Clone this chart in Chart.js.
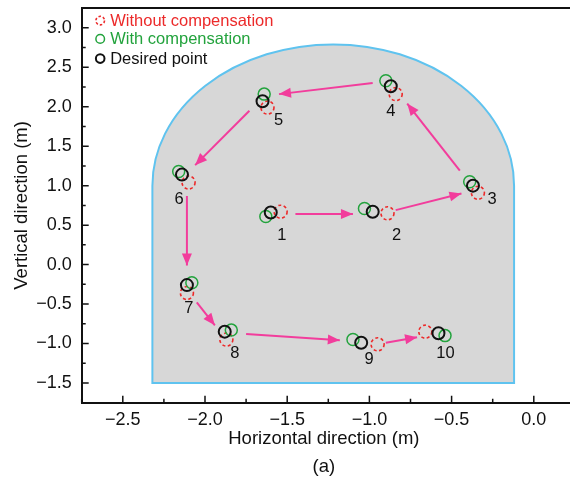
<!DOCTYPE html>
<html>
<head>
<meta charset="utf-8">
<script src="https://cdn.jsdelivr.net/npm/chart.js@4.4.1/dist/chart.umd.min.js"></script>
<style>
  html, body { margin: 0; padding: 0; overflow: hidden; background: #fff; }
  canvas { display: block; }
</style>
</head>
<body>
<canvas id="chart" width="583" height="485"></canvas>
<script>
// target points 1..10 (m)
const pointNames = ['1', '2', '3', '4', '5', '6', '7', '8', '9', '10'];
const desiredX = [-1.60, -0.98, -0.37, -0.87, -1.65, -2.14, -2.11, -1.88, -1.05, -0.58];
const desiredY = [0.66, 0.67, 1.00, 2.26, 2.07, 1.14, -0.26, -0.85, -0.99, -0.87];
const withX = [-1.63, -1.03, -0.39, -0.90, -1.64, -2.16, -2.08, -1.84, -1.10, -0.54];
const withY = [0.61, 0.71, 1.05, 2.33, 2.16, 1.18, -0.23, -0.83, -0.95, -0.90];
const withoutX = [-1.54, -0.89, -0.34, -0.84, -1.62, -2.10, -2.11, -1.87, -0.95, -0.66];
const withoutY = [0.67, 0.65, 0.91, 2.16, 1.99, 1.04, -0.36, -0.95, -1.01, -0.85];

// path arrows between consecutive points
const arrowFromX = [-1.45, -0.84, -0.45, -0.98, -1.73, -2.11, -2.05, -1.75, -0.90];
const arrowFromY = [0.64, 0.69, 1.19, 2.30, 1.95, 0.87, -0.48, -0.88, -0.99];
const arrowToX = [-1.10, -0.44, -0.77, -1.55, -2.06, -2.11, -1.94, -1.18, -0.71];
const arrowToY = [0.64, 0.90, 2.04, 2.16, 1.26, -0.01, -0.77, -0.96, -0.92];

// tunnel section outline
const tunnelLeft = -2.32, tunnelRight = -0.12;
const tunnelFloor = -1.5, tunnelSpring = 1.0, tunnelCrown = 2.79;

// label offsets for point numbers (px)
const labelDX = [11, 24, 19, 0, 16, -3, 2, 10, 8, 7];
const labelDY = [23, 24, 14, 25, 19, 25, 23, 22, 17, 20];

const xTitle = ['Horizontal direction (m)', '(a)'];

const FONT = "'Liberation Sans', Arial, sans-serif";
const RED = '#ec2a2a', GREEN = '#23a33d', BLACK = '#111111', PINK = '#f23d9c';

function toXY(xs, ys) {
    return xs.map((x, i) => ({ x: x, y: ys[i] }));
}

const isMajor = v => Math.abs(v * 2 - Math.round(v * 2)) < 1e-6;

const datasets = [
    { label: 'Desired point', data: toXY(desiredX, desiredY), showLine: false, order: 1,
      pointRadius: 6, borderColor: BLACK, borderWidth: 2, backgroundColor: 'rgba(0,0,0,0)' },
    { label: 'With compensation', data: toXY(withX, withY), showLine: false, order: 2,
      pointRadius: 6, borderColor: GREEN, borderWidth: 1.5, backgroundColor: 'rgba(0,0,0,0)' },
    { label: 'Without compensation', data: toXY(withoutX, withoutY), showLine: false, order: 3,
      pointRadius: 6.5, borderColor: RED, borderWidth: 1.6, backgroundColor: 'rgba(0,0,0,0)', dash: [3, 2.5] }
];
arrowFromX.forEach((x, i) => {
    datasets.push({
        label: 'arrow' + i,
        data: [{ x: x, y: arrowFromY[i] }, { x: arrowToX[i], y: arrowToY[i] }],
        showLine: true, pointRadius: 0, borderColor: PINK, borderWidth: 2, order: 4, arrow: true
    });
});

const tunnelPlugin = {
    id: 'tunnel',
    beforeDatasetsDraw(chart) {
        const { ctx, scales: { x, y } } = chart;
        const l = x.getPixelForValue(tunnelLeft), r = x.getPixelForValue(tunnelRight);
        const fl = y.getPixelForValue(tunnelFloor), sp = y.getPixelForValue(tunnelSpring), cr = y.getPixelForValue(tunnelCrown);
        ctx.save();
        ctx.beginPath();
        ctx.moveTo(l, fl);
        ctx.lineTo(l, sp);
        ctx.ellipse((l + r) / 2, sp, (r - l) / 2, sp - cr, 0, Math.PI, 2 * Math.PI);
        ctx.lineTo(r, fl);
        ctx.closePath();
        ctx.fillStyle = '#d7d7d7';
        ctx.fill();
        ctx.strokeStyle = '#5fc3ef';
        ctx.lineWidth = 2;
        ctx.stroke();
        ctx.restore();
    }
};

const markPlugin = {
    id: 'marks',
    beforeDatasetDraw(chart, args) {
        const ds = chart.data.datasets[args.index];
        if (ds.dash) {
            chart.ctx.save();
            chart.ctx.setLineDash(ds.dash);
        }
    },
    afterDatasetDraw(chart, args) {
        const ds = chart.data.datasets[args.index];
        const ctx = chart.ctx;
        if (ds.dash) ctx.restore();
        if (ds.arrow) {
            const p0 = args.meta.data[0], p1 = args.meta.data[1];
            const a = Math.atan2(p1.y - p0.y, p1.x - p0.x);
            const len = 12, w = 5;
            const bx = p1.x - len * Math.cos(a), by = p1.y - len * Math.sin(a);
            ctx.save();
            ctx.fillStyle = PINK;
            ctx.beginPath();
            ctx.moveTo(p1.x, p1.y);
            ctx.lineTo(bx - w * Math.sin(a), by + w * Math.cos(a));
            ctx.lineTo(bx + w * Math.sin(a), by - w * Math.cos(a));
            ctx.closePath();
            ctx.fill();
            ctx.restore();
        }
    },
    afterDatasetsDraw(chart) {
        const ctx = chart.ctx;
        const pts = chart.getDatasetMeta(0).data;
        ctx.save();
        ctx.fillStyle = BLACK;
        ctx.font = '16.5px ' + FONT;
        ctx.textAlign = 'center';
        ctx.textBaseline = 'middle';
        pointNames.forEach((n, i) => {
            ctx.fillText(n, pts[i].x + labelDX[i], pts[i].y + labelDY[i]);
        });
        ctx.restore();
    }
};

const framePlugin = {
    id: 'frame',
    afterDraw(chart) {
        const { ctx, chartArea: a, scales: { x, y } } = chart;
        ctx.save();
        ctx.strokeStyle = BLACK;
        ctx.lineWidth = 1.5;
        ctx.beginPath();
        x.ticks.forEach(t => {
            const p = x.getPixelForValue(t.value);
            ctx.moveTo(p, a.bottom);
            ctx.lineTo(p, a.bottom - (isMajor(t.value) ? 7 : 4));
        });
        y.ticks.forEach(t => {
            const p = y.getPixelForValue(t.value);
            ctx.moveTo(a.left, p);
            ctx.lineTo(a.left + (isMajor(t.value) ? 7 : 4), p);
        });
        ctx.stroke();
        ctx.lineWidth = 2;
        ctx.beginPath();
        ctx.moveTo(a.left, a.top);
        ctx.lineTo(a.right, a.top);
        ctx.stroke();

        // x axis title and panel tag, centred under the visible part of the axis
        ctx.fillStyle = BLACK;
        ctx.font = '18.5px ' + FONT;
        ctx.textAlign = 'center';
        ctx.textBaseline = 'middle';
        const cx = (a.left + 566) / 2;
        xTitle.forEach((t, i) => ctx.fillText(t, cx, a.bottom + 36 + i * 28));

        // legend, top left inside the plot
        const rows = [chart.data.datasets[2], chart.data.datasets[1], chart.data.datasets[0]];
        const rowY = [12.5, 30.8, 50.5];
        ctx.font = '16.5px ' + FONT;
        ctx.textAlign = 'left';
        rows.forEach((ds, i) => {
            const mx = a.left + 18.5, my = a.top + rowY[i];
            ctx.save();
            ctx.strokeStyle = ds.borderColor;
            ctx.lineWidth = ds.borderWidth;
            if (ds.dash) ctx.setLineDash([2.5, 2]);
            ctx.beginPath();
            ctx.arc(mx, my, 4.3, 0, Math.PI * 2);
            ctx.stroke();
            ctx.restore();
            ctx.fillStyle = ds.borderColor;
            ctx.fillText(ds.label, mx + 10, my + 1);
        });
        ctx.restore();
    }
};

const tickLabel = v => isMajor(v) ? v.toFixed(1).replace('-', '\u2212') : '';

new Chart(document.getElementById('chart'), {
    type: 'scatter',
    data: { datasets: datasets },
    options: {
        responsive: false,
        animation: false,
        layout: { padding: { top: 7, right: 0, bottom: 0, left: 0 } },
        plugins: { legend: { display: false }, tooltip: { enabled: false } },
        scales: {
            x: {
                type: 'linear', min: -2.75, max: 0.25,
                grid: { display: false, drawTicks: false, tickLength: 0 },
                border: { display: true, color: BLACK, width: 2 },
                ticks: { stepSize: 0.25, autoSkip: false, maxRotation: 0, padding: 7,
                         color: BLACK, font: { family: FONT, size: 18 }, callback: tickLabel },
                title: { display: false },
                afterFit(scale) {
                    scale.height = 82.3;
                    scale.paddingLeft = 0;
                    scale.paddingRight = 0;
                }
            },
            y: {
                type: 'linear', min: -1.75, max: 3.25,
                grid: { display: false, drawTicks: false, tickLength: 0 },
                border: { display: true, color: BLACK, width: 2 },
                ticks: { stepSize: 0.25, autoSkip: false, padding: 10,
                         color: BLACK, font: { family: FONT, size: 18 }, callback: tickLabel },
                title: { display: true, text: 'Vertical direction (m)', color: BLACK,
                         font: { family: FONT, size: 18.5, lineHeight: 1.2 }, padding: { top: 10.5, bottom: 0 } },
                afterFit(scale) {
                    scale.width = 81.7;
                    scale.paddingTop = 0;
                    scale.paddingBottom = 0;
                }
            }
        }
    },
    plugins: [tunnelPlugin, markPlugin, framePlugin]
});
</script>
</body>
</html>
